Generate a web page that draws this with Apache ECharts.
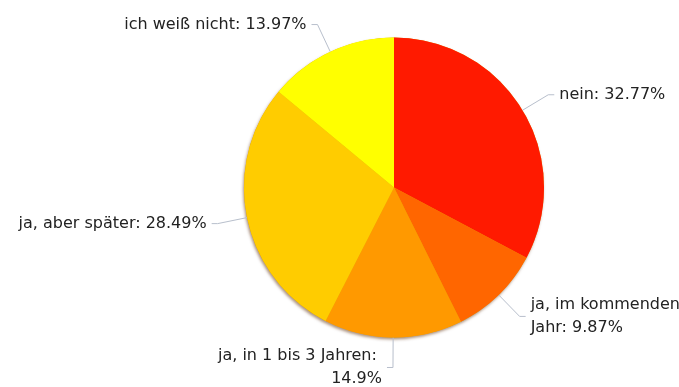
<!DOCTYPE html>
<html>
<head>
<meta charset="utf-8">
<script src="https://cdn.jsdelivr.net/npm/echarts@6/dist/echarts.min.js"></script>
<style>
  html, body { margin: 0; padding: 0; background: #fff; }
  #chart { width: 679px; height: 387px; }
</style>
</head>
<body>
<div id="chart"></div>
<script>
// Survey answers and their shares (percent), clockwise from 12 o'clock
const categories = ['nein', 'ja, im kommenden Jahr', 'ja, in 1 bis 3 Jahren', 'ja, aber später', 'ich weiß nicht'];
const shares = [32.77, 9.87, 14.9, 28.49, 13.97];
const sliceColors = ['#ff1a00', '#ff6600', '#ff9900', '#ffcc00', '#ffff00'];

// Longer labels wrap onto two lines
const wrapWidth = { 'ja, im kommenden Jahr': 158, 'ja, in 1 bis 3 Jahren': 180 };

const data = categories.map((name, i) => {
  const item = { name, value: shares[i], itemStyle: { color: sliceColors[i] } };
  if (wrapWidth[name]) {
    item.label = { width: wrapWidth[name], overflow: 'break' };
  }
  return item;
});

const total = shares.reduce((a, b) => a + b, 0);
const pieCenter = [394, 187.5];
const pieRadius = 150;

const chart = echarts.init(document.getElementById('chart'));
chart.setOption({
  animation: false,
  backgroundColor: '#ffffff',
  series: [
    {
      // soft rim shadow under the whole disc
      type: 'pie',
      silent: true,
      z: 1,
      center: pieCenter,
      radius: pieRadius,
      label: { show: false },
      labelLine: { show: false },
      data: [{ value: total, itemStyle: { color: '#e0a000' } }],
      itemStyle: {
        shadowColor: 'rgba(90, 40, 0, 0.5)',
        shadowBlur: 3,
        shadowOffsetX: -1,
        shadowOffsetY: 2
      },
      emphasis: { disabled: true }
    },
    {
      type: 'pie',
      z: 2,
      center: pieCenter,
      radius: pieRadius,
      startAngle: 90,
      clockwise: true,
      avoidLabelOverlap: false,
      data,
      itemStyle: { borderWidth: 0 },
      label: {
        show: true,
        position: 'outside',
        formatter: p => p.name + ': ' + p.value + '%',
        fontFamily: 'DejaVu Sans',
        fontSize: 16,
        color: '#222',
        lineHeight: 23
      },
      labelLine: {
        show: true,
        length: 30,
        length2: 6,
        lineStyle: { color: '#b8bfcc', width: 1 }
      },
      emphasis: { disabled: true }
    }
  ]
});
</script>
</body>
</html>
